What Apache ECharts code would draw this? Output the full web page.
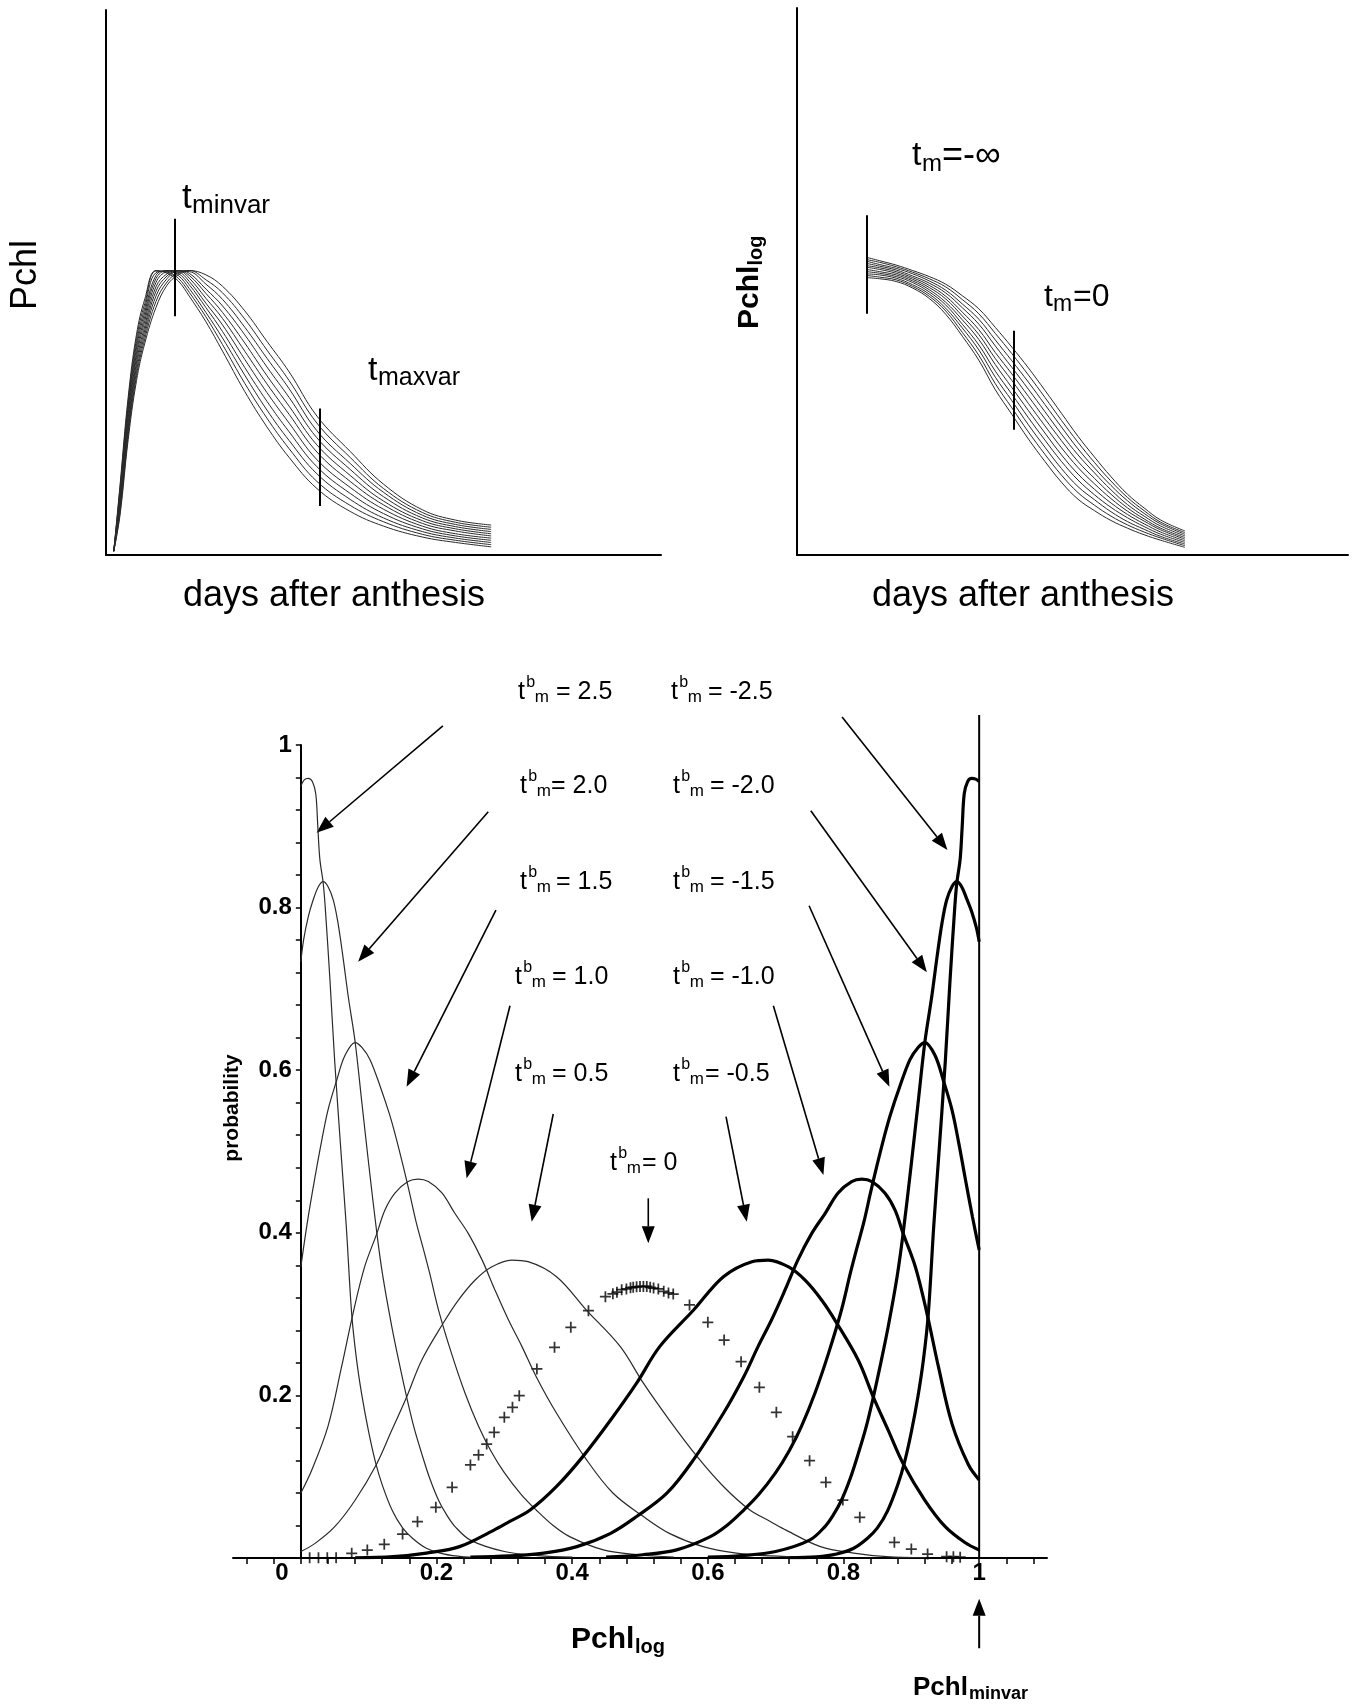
<!DOCTYPE html>
<html>
<head>
<meta charset="utf-8">
<script src="https://cdn.jsdelivr.net/npm/echarts@6/dist/echarts.min.js"></script>
<style>
  html, body { margin: 0; padding: 0; background: #fff; }
  #chart { width: 1361px; height: 1708px; }
</style>
</head>
<body>
<div id="chart"></div>
<script>
// ---- top left: Pchl vs days after anthesis (11 curves) ----
const daysPchl = [1.4, 2.5, 4, 5.5, 7, 9, 11, 13, 15, 18, 21, 25, 29, 33, 38, 44, 50, 57, 63, 69.4];
const pchl01 = [0.7, 12.5, 29.0, 40.5, 47.0, 52.2, 51.7, 50.3, 47.5, 42.8, 37.4, 30.0, 23.5, 17.9, 12.2, 8.0, 5.3, 3.3, 2.3, 1.5];
const pchl02 = [0.7, 12.0, 28.2, 39.7, 46.2, 52.1, 51.9, 50.8, 48.2, 43.7, 38.6, 31.5, 25.1, 19.5, 13.5, 9.1, 6.1, 3.8, 2.7, 1.9];
const pchl03 = [0.7, 11.4, 27.4, 38.8, 45.4, 51.8, 52.1, 51.3, 48.9, 44.5, 39.8, 33.0, 26.6, 21.0, 14.9, 10.2, 6.8, 4.3, 3.1, 2.3];
const pchl04 = [0.7, 10.9, 26.7, 38.0, 44.6, 51.3, 52.2, 51.7, 49.6, 45.4, 41.0, 34.4, 28.2, 22.6, 16.2, 11.3, 7.6, 4.8, 3.5, 2.7];
const pchl05 = [0.7, 10.3, 25.9, 37.1, 43.8, 50.7, 52.2, 52.0, 50.2, 46.2, 42.2, 35.9, 29.8, 24.2, 17.5, 12.4, 8.4, 5.3, 3.9, 3.1];
const pchl06 = [0.7, 9.8, 25.1, 36.3, 43.0, 50.0, 52.0, 52.2, 50.8, 47.1, 43.4, 37.4, 31.4, 25.8, 18.9, 13.5, 9.2, 5.8, 4.4, 3.5];
const pchl07 = [0.7, 9.3, 24.3, 35.4, 42.1, 49.2, 51.6, 52.2, 51.3, 48.0, 44.5, 38.9, 32.9, 27.3, 20.2, 14.6, 9.9, 6.3, 4.8, 3.9];
const pchl08 = [0.7, 8.7, 23.5, 34.6, 41.3, 48.4, 51.2, 52.2, 51.7, 48.8, 45.7, 40.4, 34.5, 28.9, 21.5, 15.7, 10.7, 6.8, 5.2, 4.3];
const pchl09 = [0.7, 8.2, 22.8, 33.7, 40.5, 47.5, 50.7, 52.1, 52.0, 49.7, 46.9, 41.8, 36.1, 30.5, 22.8, 16.8, 11.5, 7.3, 5.6, 4.7];
const pchl10 = [0.7, 7.6, 22.0, 32.9, 39.7, 46.5, 50.1, 51.8, 52.2, 50.5, 48.1, 43.3, 37.6, 32.0, 24.2, 17.9, 12.2, 7.8, 6.0, 5.1];
const pchl11 = [0.7, 7.1, 21.2, 32.0, 38.9, 45.4, 49.5, 51.4, 52.2, 51.4, 49.3, 44.8, 39.2, 33.6, 25.5, 19.0, 13.0, 8.3, 6.4, 5.5];

// ---- top right: Pchl_log vs days after anthesis (11 curves) ----
const daysLog = [12.67, 15, 18, 21, 24, 27, 30, 33, 36, 39, 42, 45, 48, 51, 54, 57, 60, 63, 66, 70.4];
const plog01 = [50.7, 50.5, 50.0, 48.8, 46.9, 44.0, 40.0, 35.6, 30.2, 25.7, 21.2, 17.1, 13.3, 10.2, 8.1, 6.3, 4.9, 3.7, 2.7, 1.4];
const plog02 = [51.1, 50.8, 50.3, 49.1, 47.3, 44.6, 40.7, 36.5, 31.3, 26.9, 22.5, 18.4, 14.6, 11.4, 9.1, 7.1, 5.5, 4.2, 3.1, 1.7];
const plog03 = [51.4, 51.2, 50.6, 49.4, 47.7, 45.1, 41.5, 37.5, 32.5, 28.2, 23.8, 19.7, 15.8, 12.5, 10.1, 7.9, 6.1, 4.7, 3.4, 2.0];
const plog04 = [51.8, 51.5, 50.9, 49.8, 48.1, 45.7, 42.2, 38.4, 33.6, 29.4, 25.1, 21.0, 17.1, 13.7, 11.0, 8.7, 6.8, 5.2, 3.8, 2.3];
const plog05 = [52.2, 51.8, 51.2, 50.1, 48.5, 46.2, 43.0, 39.4, 34.8, 30.6, 26.4, 22.3, 18.3, 14.8, 12.0, 9.5, 7.4, 5.7, 4.2, 2.6];
const plog06 = [52.6, 52.2, 51.5, 50.4, 48.9, 46.8, 43.7, 40.3, 35.9, 31.9, 27.7, 23.6, 19.6, 16.0, 13.0, 10.3, 8.0, 6.2, 4.6, 2.9];
const plog07 = [52.9, 52.5, 51.8, 50.7, 49.3, 47.3, 44.4, 41.2, 37.0, 33.1, 29.0, 24.9, 20.9, 17.1, 14.0, 11.1, 8.6, 6.6, 4.9, 3.2];
const plog08 = [53.3, 52.8, 52.1, 51.0, 49.7, 47.9, 45.2, 42.2, 38.2, 34.3, 30.3, 26.2, 22.1, 18.3, 15.0, 11.9, 9.2, 7.1, 5.3, 3.5];
const plog09 = [53.7, 53.1, 52.4, 51.4, 50.1, 48.4, 45.9, 43.1, 39.3, 35.5, 31.6, 27.5, 23.4, 19.4, 15.9, 12.7, 9.9, 7.6, 5.7, 3.8];
const plog10 = [54.0, 53.5, 52.7, 51.7, 50.5, 49.0, 46.7, 44.1, 40.5, 36.8, 32.9, 28.8, 24.6, 20.6, 16.9, 13.5, 10.5, 8.1, 6.0, 4.1];
const plog11 = [54.4, 53.8, 53.0, 52.0, 50.9, 49.5, 47.4, 45.0, 41.6, 38.0, 34.2, 30.1, 25.9, 21.7, 17.9, 14.3, 11.1, 8.6, 6.4, 4.4];

// vertical markers [day, from, to]
const pchlMarks = [[12.4, 43.8, 61.7], [38.5, 9.0, 26.9]];
const plogMarks = [[12.6, 44.1, 62.1], [39.4, 22.9, 41.0]];

// ---- bottom: probability vs Pchl_log ----
const probT25 = [[0,0.949],[0.005,0.957],[0.011,0.959],[0.017,0.955],[0.022,0.94],[0.025,0.9],[0.028,0.86],[0.033,0.83],[0.036,0.8],[0.043,0.71],[0.05,0.61],[0.06,0.49],[0.067,0.408],[0.075,0.3],[0.082,0.245],[0.09,0.2],[0.1,0.155],[0.11,0.118],[0.12,0.09],[0.135,0.058],[0.15,0.037],[0.165,0.024],[0.185,0.012],[0.21,0.005],[0.24,0.0015],[0.28,0.0003]];
const probT20 = [[0,0.733],[0.004,0.76],[0.011,0.789],[0.018,0.809],[0.026,0.826],[0.033,0.832],[0.04,0.826],[0.048,0.809],[0.055,0.78],[0.062,0.74],[0.07,0.69],[0.08,0.635],[0.09,0.56],[0.1,0.485],[0.112,0.4],[0.121,0.346],[0.134,0.285],[0.145,0.24],[0.156,0.198],[0.167,0.16],[0.178,0.129],[0.19,0.098],[0.203,0.071],[0.215,0.053],[0.227,0.039],[0.25,0.022],[0.3,0.008],[0.35,0.003],[0.4,0.001]];
const probT15 = [[0,0.358],[0.01,0.415],[0.021,0.469],[0.03,0.51],[0.04,0.551],[0.053,0.588],[0.065,0.618],[0.08,0.634],[0.09,0.628],[0.102,0.613],[0.117,0.58],[0.131,0.545],[0.14,0.518],[0.15,0.485],[0.16,0.45],[0.17,0.413],[0.18,0.382],[0.19,0.35],[0.203,0.305],[0.222,0.252],[0.242,0.203],[0.262,0.162],[0.28,0.132],[0.3,0.105],[0.325,0.078],[0.347,0.059],[0.372,0.04],[0.397,0.026],[0.446,0.01],[0.496,0.004],[0.55,0.001]];
const probT10 = [[0,0.08],[0.016,0.108],[0.04,0.162],[0.06,0.235],[0.077,0.301],[0.094,0.358],[0.112,0.399],[0.124,0.428],[0.139,0.449],[0.158,0.463],[0.173,0.466],[0.188,0.463],[0.208,0.449],[0.227,0.424],[0.247,0.399],[0.267,0.367],[0.286,0.33],[0.306,0.293],[0.326,0.26],[0.347,0.223],[0.377,0.178],[0.421,0.121],[0.46,0.08],[0.505,0.051],[0.544,0.03],[0.593,0.014],[0.642,0.006],[0.692,0.0025],[0.75,0.001]];
const probT05 = [[0,0.008],[0.021,0.018],[0.05,0.0385],[0.08,0.071],[0.112,0.116],[0.134,0.157],[0.156,0.198],[0.178,0.243],[0.21,0.289],[0.232,0.317],[0.257,0.342],[0.281,0.358],[0.311,0.3665],[0.335,0.3645],[0.377,0.346],[0.421,0.305],[0.471,0.26],[0.505,0.215],[0.543,0.17],[0.584,0.125],[0.623,0.088],[0.662,0.059],[0.692,0.045],[0.716,0.034],[0.766,0.014],[0.815,0.006],[0.864,0.0016],[0.92,0.0003]];
const probT0 = [[0.013,0.0003],[0.026,0.0003],[0.039,0.0003],[0.052,0.0003],[0.075,0.0057],[0.098,0.0098],[0.123,0.0168],[0.15,0.0295],[0.172,0.0447],[0.199,0.0623],[0.223,0.0869],[0.25,0.1144],[0.262,0.1267],[0.274,0.1402],[0.285,0.1546],[0.3,0.173],[0.312,0.1853],[0.322,0.1997],[0.348,0.2325],[0.374,0.2591],[0.398,0.2837],[0.424,0.3042],[0.449,0.3214],[0.46,0.325],[0.466,0.327],[0.473,0.33],[0.48,0.331],[0.486,0.3325],[0.49,0.333],[0.495,0.3335],[0.5,0.334],[0.505,0.334],[0.51,0.334],[0.515,0.333],[0.52,0.332],[0.527,0.331],[0.535,0.328],[0.542,0.326],[0.549,0.3247],[0.573,0.3112],[0.6,0.2899],[0.624,0.2681],[0.649,0.2415],[0.676,0.2099],[0.701,0.1792],[0.725,0.1492],[0.75,0.1197],[0.774,0.0931],[0.799,0.0713],[0.824,0.05],[0.875,0.0193],[0.9,0.011],[0.924,0.0049],[0.952,0.0016],[0.962,0.0016],[0.972,0.001]];
const probTm05 = [[0.08,0.0003],[0.136,0.0016],[0.185,0.006],[0.234,0.014],[0.284,0.034],[0.308,0.045],[0.338,0.059],[0.377,0.088],[0.416,0.125],[0.457,0.17],[0.495,0.215],[0.529,0.26],[0.579,0.305],[0.623,0.346],[0.665,0.3645],[0.689,0.3665],[0.719,0.358],[0.743,0.342],[0.768,0.317],[0.79,0.289],[0.822,0.243],[0.844,0.198],[0.866,0.157],[0.888,0.116],[0.92,0.071],[0.95,0.0385],[0.979,0.019],[1,0.0098]];
const probTm10 = [[0.25,0.001],[0.308,0.0025],[0.358,0.006],[0.407,0.014],[0.456,0.03],[0.495,0.051],[0.54,0.08],[0.579,0.121],[0.623,0.178],[0.653,0.223],[0.674,0.26],[0.694,0.293],[0.714,0.33],[0.733,0.367],[0.753,0.399],[0.773,0.424],[0.792,0.449],[0.812,0.463],[0.827,0.466],[0.842,0.463],[0.861,0.449],[0.876,0.428],[0.888,0.399],[0.906,0.358],[0.923,0.301],[0.94,0.235],[0.96,0.165],[0.984,0.115],[1,0.096]];
const probTm15 = [[0.45,0.001],[0.504,0.004],[0.554,0.01],[0.603,0.026],[0.628,0.04],[0.653,0.059],[0.675,0.078],[0.7,0.105],[0.72,0.132],[0.738,0.162],[0.758,0.203],[0.778,0.252],[0.797,0.305],[0.81,0.35],[0.82,0.382],[0.83,0.413],[0.84,0.45],[0.85,0.485],[0.86,0.518],[0.869,0.545],[0.883,0.58],[0.898,0.613],[0.91,0.628],[0.92,0.634],[0.935,0.618],[0.947,0.588],[0.96,0.551],[0.97,0.51],[0.979,0.469],[0.99,0.42],[1,0.379]];
const probTm20 = [[0.6,0.001],[0.65,0.003],[0.7,0.008],[0.75,0.022],[0.773,0.039],[0.785,0.053],[0.797,0.071],[0.81,0.098],[0.822,0.129],[0.833,0.16],[0.844,0.198],[0.855,0.24],[0.866,0.285],[0.879,0.346],[0.888,0.4],[0.9,0.485],[0.91,0.56],[0.92,0.635],[0.93,0.69],[0.938,0.74],[0.945,0.78],[0.952,0.809],[0.96,0.826],[0.967,0.832],[0.974,0.826],[0.982,0.81],[0.989,0.795],[0.996,0.775],[1,0.758]];
const probTm25 = [[0.72,0.0003],[0.76,0.0015],[0.79,0.005],[0.815,0.012],[0.835,0.024],[0.85,0.037],[0.865,0.058],[0.88,0.09],[0.89,0.118],[0.9,0.155],[0.91,0.2],[0.918,0.245],[0.925,0.3],[0.933,0.408],[0.94,0.49],[0.95,0.61],[0.957,0.71],[0.964,0.8],[0.967,0.83],[0.972,0.86],[0.975,0.9],[0.978,0.94],[0.983,0.955],[0.989,0.959],[0.995,0.958],[1,0.955]];

// axis ticks / labels of the bottom chart
const probXTicks = [-0.08,-0.04,0,0.04,0.08,0.12,0.16,0.2,0.24,0.28,0.32,0.36,0.4,0.44,0.48,0.52,0.56,0.6,0.64,0.68,0.72,0.76,0.8,0.84,0.88,0.92,0.96,1,1.04,1.08];
const probXLabels = [0, 0.2, 0.4, 0.6, 0.8, 1];
const probYLabels = [0.2, 0.4, 0.6, 0.8, 1];

// annotation arrows, in data units of the bottom chart: [fromX, fromY, toX, toY]
const tbArrows = [
  [0.2094, 1.0234, 0.0232, 0.8921],
  [0.2763, 0.918, 0.0845, 0.7335],
  [0.2876, 0.797, 0.1559, 0.5797],
  [0.3083, 0.6793, 0.2444, 0.467],
  [0.3721, 0.5461, 0.3403, 0.4137],
  [0.5122, 0.4424, 0.5122, 0.3871],
  [0.6268, 0.5428, 0.6574, 0.4137],
  [0.6966, 0.6793, 0.7704, 0.4711],
  [0.7493, 0.8023, 0.8677, 0.5797],
  [0.7518, 0.9192, 0.9229, 0.7204],
  [0.7979, 1.0344, 0.9532, 0.8708]
];

const FONT = '"Liberation Sans", Arial, sans-serif';
const chart = echarts.init(document.getElementById('chart'));

// bottom grid: x from -0.1 to 1.1 over 814 px, y axis sits at x = 0
const BOTTOM_W = 814;
const Y_OFFSET = -BOTTOM_W * 0.1 / 1.2;

function hiddenAxis(grid) {
  return {
    type: 'value', gridIndex: grid, min: 0, max: 100,
    axisLine: { show: true, onZero: false, lineStyle: { color: '#000', width: 2 } },
    axisTick: { show: false }, axisLabel: { show: false }, splitLine: { show: false }
  };
}

function familySeries(days, curves, axis, marks) {
  return curves.map((c, i) => ({
    type: 'line', xAxisIndex: axis, yAxisIndex: axis,
    data: days.map((d, j) => [d, c[j]]),
    smooth: 0.4, showSymbol: false, silent: true,
    lineStyle: { color: '#2a2a2a', width: 1 },
    markLine: i === 0 ? {
      symbol: 'none', silent: true, label: { show: false },
      lineStyle: { color: '#000', width: 2, type: 'solid' },
      data: marks.map(m => [{ coord: [m[0], m[1]] }, { coord: [m[0], m[2]] }])
    } : undefined
  }));
}

function probLine(data, thick) {
  return {
    type: 'line', xAxisIndex: 2, yAxisIndex: 2, data: data,
    smooth: 0.35, showSymbol: false, silent: true,
    lineStyle: { color: thick ? '#000' : '#2a2a2a', width: thick ? 3.2 : 1.2 }
  };
}

const option = {
  animation: false,
  backgroundColor: '#fff',
  grid: [
    { left: 106, top: 10, width: 555, height: 545 },
    { left: 797, top: 8, width: 551, height: 547 },
    { left: 233, top: 745, width: BOTTOM_W, height: 813 }
  ],
  xAxis: [
    hiddenAxis(0),
    hiddenAxis(1),
    {
      type: 'value', gridIndex: 2, min: -0.1, max: 1.1,
      axisLine: { onZero: false, lineStyle: { color: '#000', width: 2 } },
      axisTick: { customValues: probXTicks, length: 6, lineStyle: { color: '#000', width: 1.5 } },
      axisLabel: {
        customValues: probXLabels, margin: 3, color: '#000',
        fontFamily: FONT, fontWeight: 'bold', fontSize: 24,
        formatter: v => v === 0 ? '{z|0}' : (v === 1 ? '1' : v.toFixed(1)),
        rich: { z: { fontFamily: FONT, fontWeight: 'bold', fontSize: 24, color: '#000', padding: [0, 38, 0, 0] } }
      },
      splitLine: { show: false }
    }
  ],
  yAxis: [
    hiddenAxis(0),
    hiddenAxis(1),
    {
      type: 'value', gridIndex: 2, min: 0, max: 1, interval: 0.04,
      offset: Y_OFFSET,
      axisLine: { onZero: false, lineStyle: { color: '#000', width: 2 } },
      axisTick: { length: 5, lineStyle: { color: '#000', width: 1.5 } },
      axisLabel: {
        customValues: probYLabels, margin: 9, color: '#000',
        fontFamily: FONT, fontWeight: 'bold', fontSize: 24,
        formatter: v => v === 1 ? '1' : v.toFixed(1)
      },
      splitLine: { show: false }
    }
  ],
  series: [].concat(
    familySeries(daysPchl, [pchl01, pchl02, pchl03, pchl04, pchl05, pchl06, pchl07, pchl08, pchl09, pchl10, pchl11], 0, pchlMarks),
    familySeries(daysLog, [plog01, plog02, plog03, plog04, plog05, plog06, plog07, plog08, plog09, plog10, plog11], 1, plogMarks),
    [probT25, probT20, probT15, probT10, probT05].map(d => probLine(d, false)),
    [probTm05, probTm10, probTm15, probTm20, probTm25].map(d => probLine(d, true)),
    [{
      type: 'scatter', xAxisIndex: 2, yAxisIndex: 2, data: probT0, silent: true,
      symbol: 'path://M4.2,0H5.8V4.2H10V5.8H5.8V10H4.2V5.8H0V4.2H4.2Z', symbolSize: 11,
      itemStyle: { color: '#000' }
    }]
  )
};
chart.setOption(option);

// ---- texts and arrows ----
function txt(x, y, text, size, opts) {
  opts = opts || {};
  return {
    type: 'text', x: x, y: y, rotation: opts.rot || 0, silent: true,
    style: {
      text: text, fontSize: size, fontFamily: FONT, fontWeight: opts.bold ? 'bold' : 'normal',
      fill: '#000', align: opts.align || 'left', verticalAlign: 'middle'
    }
  };
}

function tbm(x0, yc, restX, rest) {
  return [
    txt(x0, yc, 't', 25),
    txt(x0 + 8.3, yc - 9, 'b', 16),
    txt(x0 + 16.7, yc + 5, 'm', 17),
    txt(restX, yc, rest, 25)
  ];
}

function arrow(p1, p2, lw) {
  const dx = p2[0] - p1[0], dy = p2[1] - p1[1];
  const len = Math.hypot(dx, dy);
  const ux = dx / len, uy = dy / len;
  const hl = 17, hw = 6.5;
  const bx = p2[0] - ux * hl, by = p2[1] - uy * hl;
  return [
    { type: 'line', silent: true, shape: { x1: p1[0], y1: p1[1], x2: bx, y2: by }, style: { stroke: '#000', lineWidth: lw } },
    { type: 'polygon', silent: true, shape: { points: [[p2[0], p2[1]], [bx - uy * hw, by + ux * hw], [bx + uy * hw, by - ux * hw]] }, style: { fill: '#000' } }
  ];
}

const toPx = (x, y) => chart.convertToPixel({ gridIndex: 2 }, [x, y]);

let g = [];
// top left
g.push(txt(26, 275, 'Pchl', 36, { rot: Math.PI / 2, align: 'center' }));
g.push(txt(182, 198, 't', 35), txt(192, 206, 'minvar', 26));
g.push(txt(368, 371, 't', 34), txt(378, 378, 'maxvar', 25));
g.push(txt(334, 596, 'days after anthesis', 36, { align: 'center' }));
// top right
g.push(txt(750, 329, 'Pchl', 30, { rot: Math.PI / 2, bold: true }));
g.push(txt(756, 265.5, 'log', 20, { rot: Math.PI / 2, bold: true }));
g.push(txt(912, 156, 't', 34), txt(922, 164, 'm', 24), txt(942, 156, '=-∞', 36));
g.push(txt(1044, 297, 't', 32), txt(1053, 305, 'm', 23), txt(1073, 297, '=0', 32));
g.push(txt(1023, 596, 'days after anthesis', 36, { align: 'center' }));
// bottom labels
g = g.concat(
  tbm(518, 692, 556, '= 2.5'), tbm(520, 786, 551, '= 2.0'), tbm(520, 882, 556, '= 1.5'),
  tbm(515, 977, 552, '= 1.0'), tbm(515, 1074, 552, '= 0.5'),
  tbm(671, 692, 708, '= -2.5'), tbm(673, 786, 710, '= -2.0'), tbm(673, 882, 710, '= -1.5'),
  tbm(673, 977, 710, '= -1.0'), tbm(673, 1074, 705, '= -0.5'), tbm(610, 1163, 642, '= 0')
);
g.push(txt(232, 1108, 'probability', 21, { rot: Math.PI / 2, bold: true, align: 'center' }));
g.push(txt(571, 1640, 'Pchl', 30, { bold: true }), txt(635, 1647, 'log', 20, { bold: true }));
g.push(txt(913, 1688, 'Pchl', 26, { bold: true }), txt(969, 1694, 'minvar', 18, { bold: true }));

tbArrows.forEach(a => { g = g.concat(arrow(toPx(a[0], a[1]), toPx(a[2], a[3]), 1.6)); });
// Pchl_minvar reference line at x = 1 and the arrow below it
const vTop = toPx(1, 1.037), vBot = toPx(1, 0);
g.push({ type: 'line', silent: true, shape: { x1: vBot[0], y1: vBot[1], x2: vTop[0], y2: vTop[1] }, style: { stroke: '#000', lineWidth: 2 } });
g = g.concat(arrow(toPx(1, -0.111), toPx(1, -0.05), 2));

chart.setOption({ graphic: g });
</script>
</body>
</html>
